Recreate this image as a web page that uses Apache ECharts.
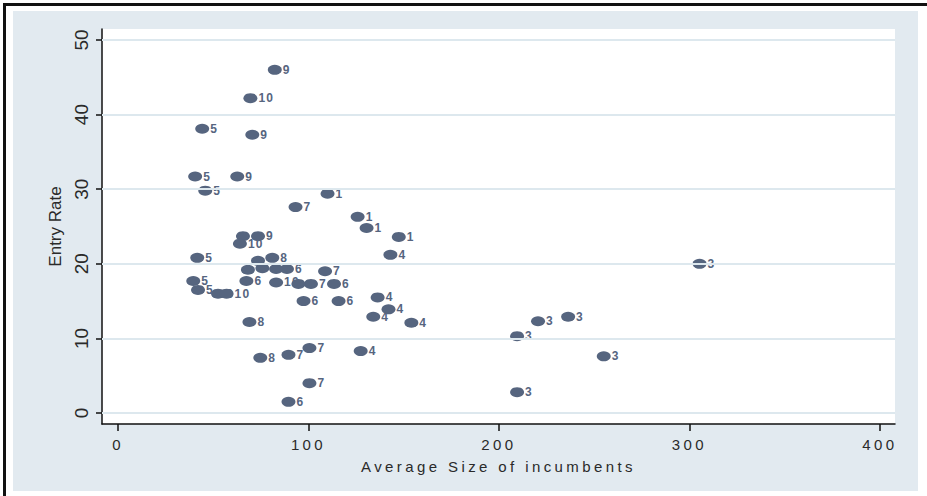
<!DOCTYPE html>
<html>
<head>
<meta charset="utf-8">
<script src="https://cdn.jsdelivr.net/npm/echarts@6/dist/echarts.min.js"></script>
<style>
  html, body { margin: 0; padding: 0; background: #ffffff; }
  #frame { position: absolute; left: 3px; top: 3px; width: 924px; height: 493px;
           border-left: 3px solid #111; border-top: 3px solid #111; box-sizing: border-box; }
  #panel { position: absolute; left: 13px; top: 11px; width: 905px; height: 480px; background: #e2eaf0; }
  #chart { position: absolute; left: 0; top: 0; width: 927px; height: 496px; }
  /* Stata-style spaced lettering for the x axis and marker labels */
  #chart svg text[style*="Arial"] { letter-spacing: 3.4px; }
  #chart svg text[style*="Helvetica"] { letter-spacing: 1.2px; }
</style>
</head>
<body>
<div id="frame"></div>
<div id="panel"></div>
<div id="chart"></div>
<script>
// Average incumbent size vs. entry rate, each point tagged with its group number
const xVals = [82.3, 69.5, 44.2, 70.5, 40.5, 62.6, 45.8, 110.0, 93.2, 125.8,
               130.5, 147.4, 143.0, 305.3, 65.6, 73.5, 64.0, 73.5, 81.0, 41.6,
               68.2, 75.8, 83.0, 88.7, 67.4, 83.0, 108.7, 101.3, 94.7, 113.4,
               39.5, 42.0, 52.5, 57.0, 97.4, 115.8, 69.0, 136.3, 142.0, 134.0,
               154.0, 100.5, 127.4, 100.5, 74.7, 89.5, 89.5, 220.5, 236.3, 209.5,
               255.0, 209.5];
const yVals = [46.0, 42.2, 38.1, 37.3, 31.7, 31.7, 29.8, 29.4, 27.6, 26.3,
               24.8, 23.6, 21.2, 20.0, 23.7, 23.7, 22.7, 20.4, 20.8, 20.8,
               19.2, 19.4, 19.3, 19.3, 17.7, 17.5, 19.0, 17.3, 17.3, 17.3,
               17.7, 16.5, 16.0, 16.0, 15.0, 15.0, 12.2, 15.5, 13.9, 12.9,
               12.1, 8.7, 8.3, 4.0, 7.4, 7.8, 1.5, 12.3, 12.9, 10.3,
               7.6, 2.8];
const groupLabels = ['9', '10', '5', '9', '5', '9', '5', '1', '7', '1',
                     '1', '1', '4', '3', '9', '9', '10', '8', '8', '5',
                     '6', '6', '6', '6', '6', '10', '7', '7', '7', '6',
                     '5', '5', '8', '10', '6', '6', '8', '4', '4', '4',
                     '4', '7', '4', '7', '8', '7', '6', '3', '3', '3',
                     '3', '3'];
const xTicks = [0, 100, 200, 300, 400];
const yTicks = [0, 10, 20, 30, 40, 50];

// points whose tag sits underneath a neighbouring marker in the dense cluster
const coveredTags = [14, 17, 20, 21, 22, 28];

const markerColor = '#56657f';
const points = xVals.map((x, i) => ({
  value: [x, yVals[i], groupLabels[i]],
  label: coveredTags.includes(i) ? { show: false } : undefined
}));

const chart = echarts.init(document.getElementById('chart'), null, { renderer: 'svg' });
chart.setOption({
  backgroundColor: 'transparent',
  animation: false,
  grid: { left: 102, right: 32, top: 29, bottom: 72, show: true,
          backgroundColor: '#ffffff', borderWidth: 0 },
  xAxis: {
    type: 'value', min: -8.4, max: 407.9,
    name: 'Average Size of incumbents', nameLocation: 'middle', nameGap: 35,
    nameTextStyle: { fontFamily: 'Arial', fontSize: 15, color: '#2a2a2a' },
    axisLine: { show: true, onZero: false, lineStyle: { color: '#111', width: 1.5 } },
    axisTick: { show: true, length: 7, customValues: xTicks, lineStyle: { color: '#111', width: 1.5 } },
    axisLabel: { customValues: xTicks, margin: 13, fontFamily: 'Arial', fontSize: 15, color: '#2a2a2a' },
    splitLine: { show: false }
  },
  yAxis: {
    type: 'value', min: -1.47, max: 51.47,
    name: 'Entry Rate', nameLocation: 'middle', nameGap: 37, nameRotate: 90,
    nameTextStyle: { fontFamily: 'Liberation Sans', fontSize: 17, color: '#2a2a2a' },
    axisLine: { show: true, onZero: false, lineStyle: { color: '#111', width: 1.5 } },
    axisTick: { show: true, length: 6, customValues: yTicks, lineStyle: { color: '#111', width: 1.5 } },
    axisLabel: { customValues: yTicks, rotate: 90, margin: 11, fontFamily: 'Liberation Sans',
                 fontSize: 19, color: '#2a2a2a' },
    splitLine: { show: false }
  },
  series: [
    {
      // horizontal reference lines at each y tick
      type: 'scatter', data: [], z: 1, silent: true,
      markLine: {
        silent: true, symbol: 'none', animation: false,
        label: { show: false },
        lineStyle: { color: '#dde8ee', width: 2, type: 'solid' },
        data: yTicks.map(v => ({ yAxis: v }))
      }
    },
    {
      type: 'scatter', z: 3,
      data: points,
      symbol: 'circle', symbolSize: [14, 10],
      itemStyle: { color: markerColor, opacity: 1 },
      label: {
        show: true, position: 'right', distance: 1, offset: [0, 2],
        formatter: p => p.value[2],
        fontFamily: 'Helvetica', fontWeight: 'bold', fontSize: 12, color: markerColor
      },
      labelLayout: { hideOverlap: false }
    }
  ]
});
</script>
</body>
</html>
